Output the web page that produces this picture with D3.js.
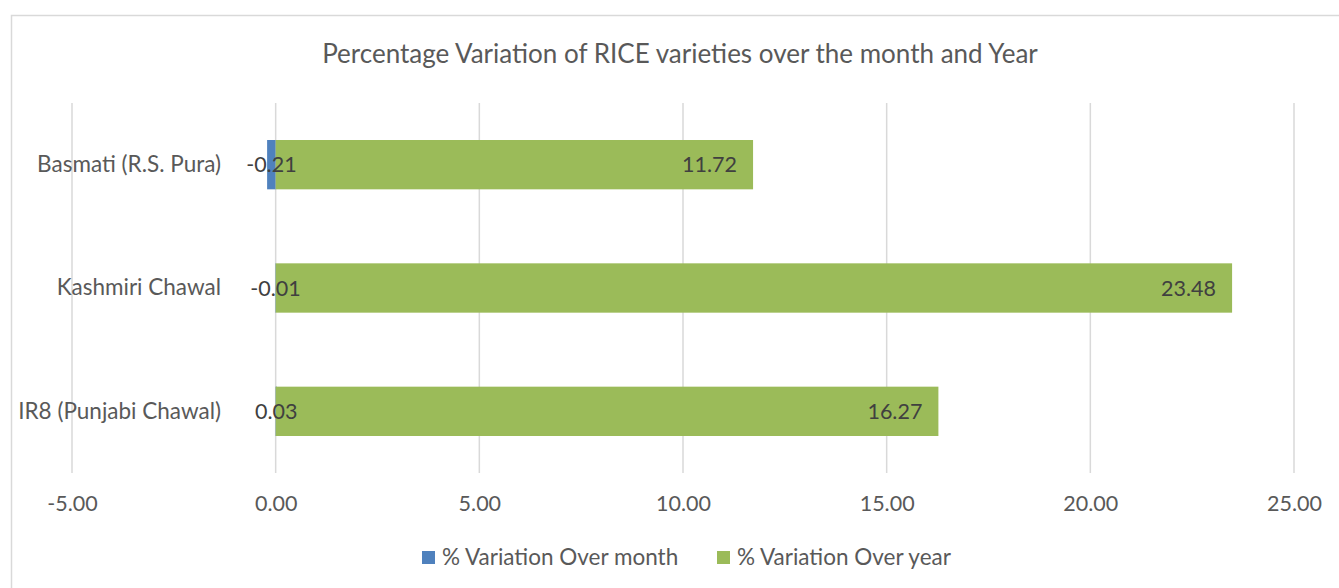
<!DOCTYPE html>
<html>
<head>
<meta charset="utf-8">
<script src="https://cdn.jsdelivr.net/npm/d3@7"></script>
<style>
	html, body { margin: 0; padding: 0; background: #fff; }
	svg { display: block; font-family: "Lato", "Open Sans", sans-serif; }
</style>
</head>
<body>
<svg id="chart" width="1339" height="588"></svg>
<script>
const categories = ["Basmati (R.S. Pura)", "Kashmiri Chawal", "IR8 (Punjabi Chawal)"];
const monthVals = [-0.21, -0.01, 0.03];
const yearVals = [11.72, 23.48, 16.27];
const xTicks = [-5, 0, 5, 10, 15, 20, 25];
const seriesNames = ["% Variation Over month", "% Variation Over year"];

const blueclr = "#4F81BD";
const greenclr = "#9BBB59";
const gridclr = "#D9D9D9";
const textclr = "#595959";
const labelclr = "#404040";

// plain hyphen minus like the spreadsheet output
const fmt = d => d.toFixed(2);

const svg = d3.select("#chart");

// outer chart border (runs off the right and bottom edges)
svg.append("rect")
	.attr("x", 11.5).attr("y", 15.5)
	.attr("width", 1400).attr("height", 700)
	.attr("fill", "none").attr("stroke", gridclr).attr("stroke-width", 1.5);

const x = d3.scaleLinear().domain([-5, 25]).range([72, 1294]);
const y = d3.scaleBand().domain(categories).range([103, 473])
	.paddingInner(0.6).paddingOuter(0.3);

// title
svg.append("text")
	.attr("x", 680).attr("y", 63)
	.attr("text-anchor", "middle")
	.attr("font-size", 26)
	.attr("fill", textclr)
	.text("Percentage Variation of RICE varieties over the month and Year");

// gridlines
svg.append("g").selectAll("line").data(xTicks).join("line")
	.attr("x1", d => x(d)).attr("x2", d => x(d))
	.attr("y1", 103).attr("y2", 473)
	.attr("stroke", gridclr).attr("stroke-width", 1.5);

// x axis labels
const xAxis = d3.axisBottom(x).tickValues(xTicks).tickFormat(fmt).tickSize(0).tickPadding(0);
const gx = svg.append("g").attr("transform", "translate(0,496)").call(xAxis);
gx.select(".domain").remove();
gx.selectAll("text").attr("font-size", 21.5).attr("fill", textclr)
	.attr("font-family", "Lato, 'Open Sans', sans-serif");

// category labels
const yAxis = d3.axisLeft(y).tickSize(0).tickPadding(0);
const gy = svg.append("g").attr("transform", "translate(221,0)").call(yAxis);
gy.select(".domain").remove();
gy.selectAll("text").attr("font-size", 22.5).attr("fill", textclr)
	.attr("font-family", "Lato, 'Open Sans', sans-serif");

const rows = categories.map((c, i) => ({cat: c, month: monthVals[i], year: yearVals[i]}));

// bars: month first, year drawn over it
svg.append("g").selectAll("rect").data(rows).join("rect")
	.attr("x", d => x(Math.min(0, d.month)))
	.attr("width", d => Math.abs(x(d.month) - x(0)))
	.attr("y", d => y(d.cat)).attr("height", y.bandwidth())
	.attr("fill", blueclr);

svg.append("g").selectAll("rect").data(rows).join("rect")
	.attr("x", d => x(Math.min(0, d.year)))
	.attr("width", d => Math.abs(x(d.year) - x(0)))
	.attr("y", d => y(d.cat)).attr("height", y.bandwidth())
	.attr("fill", greenclr);

// data labels
svg.append("g").selectAll("text").data(rows).join("text")
	.attr("x", d => (x(d.month) + x(0)) / 2)
	.attr("y", d => y(d.cat) + y.bandwidth() / 2)
	.attr("dy", "0.35em")
	.attr("text-anchor", "middle")
	.attr("font-size", 21.5).attr("fill", labelclr)
	.text(d => fmt(d.month));

svg.append("g").selectAll("text").data(rows).join("text")
	.attr("x", d => x(d.year) - 16)
	.attr("y", d => y(d.cat) + y.bandwidth() / 2)
	.attr("dy", "0.35em")
	.attr("text-anchor", "end")
	.attr("font-size", 21.5).attr("fill", labelclr)
	.text(d => fmt(d.year));

// legend
const legendX = [422, 717];
const lg = svg.append("g").selectAll("g").data(seriesNames).join("g")
	.attr("transform", (d, i) => `translate(${legendX[i]},551)`);
lg.append("rect").attr("width", 13).attr("height", 13)
	.attr("fill", (d, i) => [blueclr, greenclr][i]);
lg.append("text").attr("x", 20).attr("y", 14)
	.attr("font-size", 22.5).attr("fill", textclr)
	.text(d => d);
</script>
</body>
</html>
